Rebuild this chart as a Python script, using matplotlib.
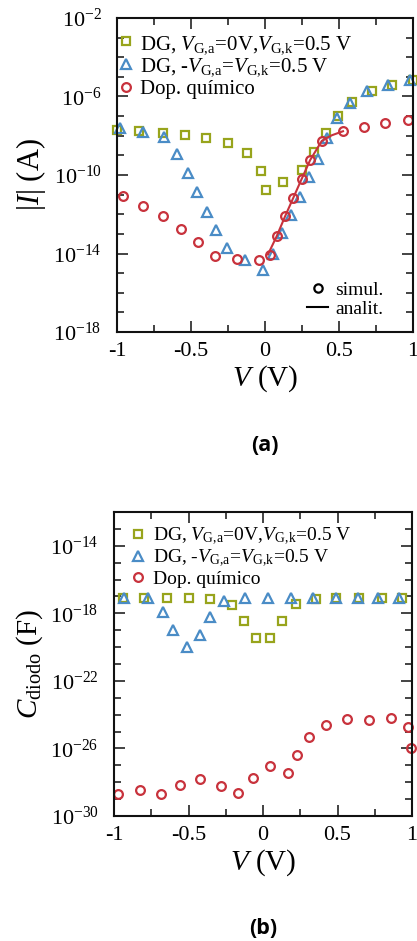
import matplotlib
matplotlib.use("Agg")
import matplotlib.pyplot as plt
import numpy as np
from matplotlib.ticker import FixedLocator, FuncFormatter, NullFormatter
from matplotlib.lines import Line2D

plt.rcParams['font.family'] = ['Liberation Serif', 'DejaVu Serif']
plt.rcParams['mathtext.fontset'] = 'custom'
plt.rcParams['mathtext.rm'] = 'Liberation Serif'
plt.rcParams['mathtext.it'] = 'Liberation Serif:italic'
plt.rcParams['mathtext.bf'] = 'Liberation Serif:bold'
plt.rcParams['axes.unicode_minus'] = False

# ---------------- data: panel (a), |I| vs V (log10 values) ----------------
a_sq_v = [-1.0, -0.85, -0.69, -0.54, -0.40, -0.25, -0.12, -0.03, 0.01, 0.12, 0.25,
          0.33, 0.41, 0.49, 0.59, 0.72, 0.86, 1.0]
a_sq_log = [-7.71, -7.77, -7.88, -7.97, -8.14, -8.39, -8.9, -9.8, -10.78, -10.35, -9.76,
            -8.82, -7.88, -7.0, -6.27, -5.71, -5.42, -5.16]

a_tri_v = [-0.98, -0.825, -0.68, -0.595, -0.52, -0.46, -0.395, -0.33, -0.26, -0.136,
           -0.012, 0.052, 0.113, 0.174, 0.237, 0.294, 0.361, 0.418, 0.486, 0.572,
           0.689, 0.829, 0.978]
a_tri_log = [-7.63, -7.80, -8.06, -8.94, -9.89, -10.86, -11.88, -12.82, -13.72, -14.35,
             -14.82, -14.0, -12.98, -12.05, -11.12, -10.10, -9.16, -8.14, -7.12, -6.32,
             -5.71, -5.42, -5.16]

a_cir_v = [-0.96, -0.825, -0.69, -0.57, -0.456, -0.337, -0.192, -0.039, 0.034, 0.079,
           0.136, 0.192, 0.249, 0.305, 0.384, 0.527, 0.666, 0.809, 0.965]
a_cir_log = [-11.08, -11.59, -12.10, -12.73, -13.41, -14.11, -14.30, -14.31, -14.09,
             -13.12, -12.10, -11.15, -10.18, -9.24, -8.26, -7.77, -7.55, -7.37, -7.2]

a_line_v = [0.02, 0.079, 0.136, 0.192, 0.249, 0.305, 0.384, 0.45, 0.527]
a_line_log = [-14.05, -13.12, -12.10, -11.15, -10.18, -9.24, -8.26, -7.98, -7.77]

# ---------------- data: panel (b), C_diodo vs V (log10 values) ----------------
b_sq_v = [-0.94, -0.80, -0.647, -0.50, -0.358, -0.209, -0.127, -0.049, 0.047, 0.125,
          0.22, 0.353, 0.49, 0.647, 0.80, 0.935]
b_sq_log = [-17.11, -17.11, -17.11, -17.11, -17.17, -17.50, -18.43, -19.47, -19.47,
            -18.43, -17.44, -17.17, -17.11, -17.11, -17.11, -17.11]

b_tri_v = [-0.933, -0.773, -0.673, -0.606, -0.509, -0.425, -0.353, -0.26, -0.12,
           0.036, 0.185, 0.335, 0.487, 0.635, 0.775, 0.913]
b_tri_log = [-17.11, -17.11, -17.9, -18.98, -19.97, -19.28, -18.2, -17.25, -17.11,
             -17.11, -17.11, -17.11, -17.11, -17.11, -17.11, -17.11]

b_cir_v = [-0.971, -0.825, -0.682, -0.56, -0.42, -0.28, -0.169, -0.069, 0.047, 0.169,
           0.231, 0.307, 0.425, 0.562, 0.709, 0.858, 0.975, 0.991]
b_cir_log = [-28.69, -28.49, -28.69, -28.15, -27.80, -28.20, -28.64, -27.76, -27.03,
             -27.46, -26.38, -25.30, -24.60, -24.25, -24.31, -24.21, -24.74, -25.95]

x_ticks = [-1, -0.5, 0, 0.5, 1]
x_ticklabels = ['-1', '-0.5', '0', '0.5', '1']
a_yticks_exp = [-2, -6, -10, -14, -18]
b_yticks_exp = [-14, -18, -22, -26, -30]

labels = [r'DG, $V_{\mathrm{G,\!a}}$=0V,$V_{\mathrm{G,\!k}}$=0.5 V',
          r'DG, -$V_{\mathrm{G,\!a}}$=$V_{\mathrm{G,\!k}}$=0.5 V',
          'Dop. químico']

c_sq = '#98a41c'
c_tri = '#4a8cc6'
c_red = '#c8323c'

W, H = 417, 941
fig = plt.figure(figsize=(W / 100, H / 100), dpi=100)
fig.patch.set_facecolor('white')


def pax(l, r, t, b):
    return fig.add_axes([l / W, 1 - b / H, (r - l) / W, (b - t) / H])


ax1 = pax(117, 413, 18, 332)
ax2 = pax(114, 412, 512, 816)

mk = dict(linestyle='none', markerfacecolor='none', mew=1.6, clip_on=False)


def style(ax, ymin, ymax, ymaj):
    ax.set_yscale('log')
    ax.set_xlim(-1, 1)
    ax.set_ylim(10.0 ** ymin, 10.0 ** ymax)
    ax.xaxis.set_major_locator(FixedLocator(x_ticks))
    ax.xaxis.set_minor_locator(FixedLocator([-0.75, -0.25, 0.25, 0.75]))
    ax.set_xticklabels(x_ticklabels)
    ax.yaxis.set_major_locator(FixedLocator([10.0 ** e for e in ymaj]))
    ax.yaxis.set_minor_locator(FixedLocator([10.0 ** e for e in range(ymin, ymax + 1)]))
    ax.yaxis.set_minor_formatter(NullFormatter())
    ax.yaxis.set_major_formatter(FuncFormatter(
        lambda v, p: r'$\mathrm{10^{%d}}$' % int(round(np.log10(v)))))
    ax.tick_params(which='both', direction='in', top=True, right=True, width=1.1,
                   labelsize=16, color='#111111')
    ax.tick_params(which='major', length=8)
    ax.tick_params(which='minor', length=5)
    ax.tick_params(axis='x', pad=7)
    ax.tick_params(axis='y', pad=11)
    for s in ax.spines.values():
        s.set_linewidth(1.5)
        s.set_color('#111111')


style(ax1, -18, -2, a_yticks_exp)
style(ax2, -30, -12, b_yticks_exp)

p = lambda l: [10.0 ** v for v in l]

h1, = ax1.plot(a_sq_v, p(a_sq_log), marker='s', ms=5.9, color=c_sq, **mk)
h2, = ax1.plot(a_tri_v, p(a_tri_log), marker='^', ms=6.5, color=c_tri, **mk)
h3, = ax1.plot(a_cir_v, p(a_cir_log), marker='o', ms=6.3, color=c_red, **mk)
ax1.plot(a_line_v, p(a_line_log), color=c_red, lw=1.5)

leg1 = ax1.legend([h1, h2, h3], labels, loc='upper left', bbox_to_anchor=(0.0, 0.95),
                  frameon=False, fontsize=15, handlelength=0.9, handletextpad=0.2,
                  borderpad=0, borderaxespad=0, labelspacing=0.05)
ax1.add_artist(leg1)

hs = Line2D([], [], marker='o', ls='none', mfc='none', mec='black', mew=1.6, ms=6)
hl = Line2D([], [], color='black', lw=1.5)
ax1.legend([hs, hl], ['simul.', 'analit.'], loc='lower right',
           bbox_to_anchor=(0.9, 0.045), frameon=False, fontsize=14,
           handlelength=1.1, handletextpad=0.35, borderpad=0, borderaxespad=0,
           labelspacing=0.05)

g1, = ax2.plot(b_sq_v, p(b_sq_log), marker='s', ms=5.9, color=c_sq, **mk)
g2, = ax2.plot(b_tri_v, p(b_tri_log), marker='^', ms=6.5, color=c_tri, **mk)
g3, = ax2.plot(b_cir_v, p(b_cir_log), marker='o', ms=6.3, color=c_red, **mk)
ax2.legend([g1, g2, g3], labels, loc='upper left', bbox_to_anchor=(0.05, 0.955),
           frameon=False, fontsize=14, handlelength=0.9, handletextpad=0.35,
           borderpad=0, borderaxespad=0, labelspacing=0.05)

for ax in (ax1, ax2):
    ax.set_xlabel(r'$V$ (V)', fontsize=21, labelpad=2)

ax1.set_ylabel(r'$|I|$ (A)', fontsize=22, labelpad=4)
ax2.set_ylabel(r'$C_{\mathrm{diodo}}$ (F)', fontsize=21, labelpad=4)

fig.text(265 / W, 1 - 445 / H, '(a)', fontsize=15.5, fontweight='bold',
         family=['Open Sans', 'DejaVu Sans'], ha='center', va='center')
fig.text(263 / W, 1 - 928 / H, '(b)', fontsize=15.5, fontweight='bold',
         family=['Open Sans', 'DejaVu Sans'], ha='center', va='center')

fig.savefig('out.png', dpi=100, facecolor='white')
